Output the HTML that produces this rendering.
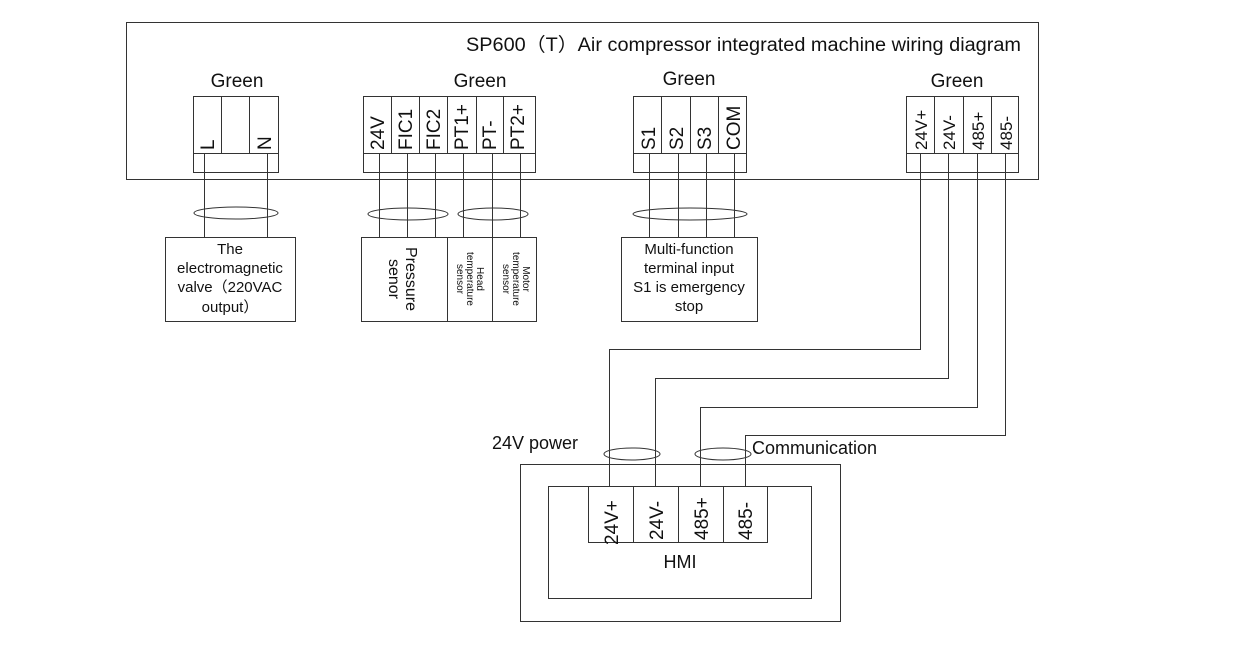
<!DOCTYPE html>
<html><head><meta charset="utf-8"><style>
html,body{margin:0;padding:0;background:#fff;}
svg{display:block;font-family:"Liberation Sans","Noto Sans CJK SC",sans-serif;}
</style></head><body>
<svg width="1254" height="647" viewBox="0 0 1254 647" xmlns="http://www.w3.org/2000/svg">
<g fill="none" stroke="#333" stroke-width="1">
<rect x="126.5" y="22.5" width="912" height="157"/>
<rect x="193.5" y="96.5" width="85" height="76" fill="#fff"/>
<line x1="193" y1="153.5" x2="278" y2="153.5"/>
<line x1="221.5" y1="96" x2="221.5" y2="153"/>
<line x1="249.5" y1="96" x2="249.5" y2="153"/>
<line x1="204.5" y1="153" x2="204.5" y2="237"/>
<line x1="267.5" y1="153" x2="267.5" y2="237"/>
<ellipse cx="236" cy="213" rx="42" ry="6"/>
<rect x="165.5" y="237.5" width="130" height="84"/>
<rect x="363.5" y="96.5" width="172" height="76"/>
<line x1="363" y1="153.5" x2="535" y2="153.5"/>
<line x1="391.5" y1="96" x2="391.5" y2="153"/>
<line x1="419.5" y1="96" x2="419.5" y2="153"/>
<line x1="447.5" y1="96" x2="447.5" y2="153"/>
<line x1="476.5" y1="96" x2="476.5" y2="153"/>
<line x1="503.5" y1="96" x2="503.5" y2="153"/>
<line x1="379.5" y1="153" x2="379.5" y2="237"/>
<line x1="407.5" y1="153" x2="407.5" y2="237"/>
<line x1="435.5" y1="153" x2="435.5" y2="237"/>
<line x1="463.5" y1="153" x2="463.5" y2="237"/>
<line x1="492.5" y1="153" x2="492.5" y2="237"/>
<line x1="520.5" y1="153" x2="520.5" y2="237"/>
<ellipse cx="408" cy="214" rx="40" ry="6"/>
<ellipse cx="493" cy="214" rx="35" ry="6"/>
<rect x="361.5" y="237.5" width="175" height="84"/>
<line x1="447.5" y1="237" x2="447.5" y2="322"/>
<line x1="492.5" y1="237" x2="492.5" y2="322"/>
<rect x="633.5" y="96.5" width="113" height="76"/>
<line x1="633" y1="153.5" x2="746" y2="153.5"/>
<line x1="661.5" y1="96" x2="661.5" y2="153"/>
<line x1="690.5" y1="96" x2="690.5" y2="153"/>
<line x1="718.5" y1="96" x2="718.5" y2="153"/>
<line x1="649.5" y1="153" x2="649.5" y2="237"/>
<line x1="678.5" y1="153" x2="678.5" y2="237"/>
<line x1="706.5" y1="153" x2="706.5" y2="237"/>
<line x1="734.5" y1="153" x2="734.5" y2="237"/>
<ellipse cx="690" cy="214" rx="57" ry="6"/>
<rect x="621.5" y="237.5" width="136" height="84"/>
<rect x="906.5" y="96.5" width="112" height="76" fill="#fff"/>
<line x1="906" y1="153.5" x2="1018" y2="153.5"/>
<line x1="934.5" y1="96" x2="934.5" y2="153"/>
<line x1="963.5" y1="96" x2="963.5" y2="153"/>
<line x1="991.5" y1="96" x2="991.5" y2="153"/>
<polyline points="920.5,153 920.5,349.5 609.5,349.5 609.5,486"/>
<polyline points="948.5,153 948.5,378.5 655.5,378.5 655.5,486"/>
<polyline points="977.5,153 977.5,407.5 700.5,407.5 700.5,486"/>
<polyline points="1005.5,153 1005.5,435.5 745.5,435.5 745.5,486"/>
<ellipse cx="632" cy="454" rx="28" ry="6"/>
<ellipse cx="723" cy="454" rx="28" ry="6"/>
<rect x="520.5" y="464.5" width="320" height="157"/>
<rect x="548.5" y="486.5" width="263" height="112"/>
<rect x="588.5" y="486.5" width="179" height="56"/>
<line x1="633.5" y1="486" x2="633.5" y2="542"/>
<line x1="678.5" y1="486" x2="678.5" y2="542"/>
<line x1="723.5" y1="486" x2="723.5" y2="542"/>
</g>
<g fill="#111" font-size="19">
<text x="1021" y="51" text-anchor="end" textLength="555" lengthAdjust="spacingAndGlyphs">SP600（T）Air compressor integrated machine wiring diagram</text>
<text x="237" y="87" text-anchor="middle">Green</text>
<text x="480" y="87" text-anchor="middle">Green</text>
<text x="689" y="85" text-anchor="middle">Green</text>
<text x="957" y="87" text-anchor="middle">Green</text>
</g>
<g fill="#111" font-size="19">
<text transform="translate(214,150) rotate(-90)">L</text>
<text transform="translate(271,150) rotate(-90)">N</text>
<text transform="translate(384,150) rotate(-90)">24V</text>
<text transform="translate(412,150) rotate(-90)">FIC1</text>
<text transform="translate(440,150) rotate(-90)">FIC2</text>
<text transform="translate(468,150) rotate(-90)">PT1+</text>
<text transform="translate(496,150) rotate(-90)">PT-</text>
<text transform="translate(524,150) rotate(-90)">PT2+</text>
<text transform="translate(655,150) rotate(-90)">S1</text>
<text transform="translate(683,150) rotate(-90)">S2</text>
<text transform="translate(711,150) rotate(-90)">S3</text>
<text transform="translate(740,150) rotate(-90)">COM</text>
<text transform="translate(927,150) rotate(-90)" font-size="17">24V+</text>
<text transform="translate(955,150) rotate(-90)" font-size="17">24V-</text>
<text transform="translate(984,150) rotate(-90)" font-size="17">485+</text>
<text transform="translate(1012,150) rotate(-90)" font-size="17">485-</text>
<text transform="translate(618,545) rotate(-90)">24V+</text>
<text transform="translate(663,540) rotate(-90)">24V-</text>
<text transform="translate(708,540) rotate(-90)">485+</text>
<text transform="translate(752,540) rotate(-90)">485-</text>
</g>
<g fill="#111" font-size="15" text-anchor="middle">
<text x="230" y="254">The</text>
<text x="230" y="273">electromagnetic</text>
<text x="230" y="292">valve（220VAC</text>
<text x="230" y="312">output）</text>
<text x="689" y="254">Multi-function</text>
<text x="689" y="273">terminal input</text>
<text x="689" y="292">S1 is emergency</text>
<text x="689" y="311">stop</text>
</g>
<g fill="#111" text-anchor="middle">
<text transform="translate(406,279) rotate(90)" font-size="16">Pressure</text>
<text transform="translate(389,279) rotate(90)" font-size="16">senor</text>
<text transform="translate(477,279) rotate(90)" font-size="10">Head</text>
<text transform="translate(467,279) rotate(90)" font-size="10">temperature</text>
<text transform="translate(457,279) rotate(90)" font-size="10">sensor</text>
<text transform="translate(523,279) rotate(90)" font-size="10">Motor</text>
<text transform="translate(513,279) rotate(90)" font-size="10">temperature</text>
<text transform="translate(503,279) rotate(90)" font-size="10">sensor</text>
</g>
<g fill="#111" font-size="18">
<text x="492" y="449">24V power</text>
<text x="752" y="454">Communication</text>
<text x="680" y="568" text-anchor="middle">HMI</text>
</g>
</svg>
</body></html>
